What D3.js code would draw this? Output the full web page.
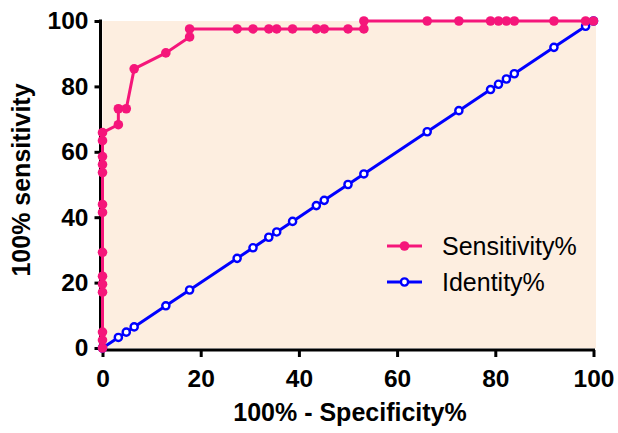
<!DOCTYPE html>
<html>
<head>
<meta charset="utf-8">
<script src="https://cdn.jsdelivr.net/npm/d3@7"></script>
<style>
	body { margin: 0; background: #fff; }
	svg text { font-family: "Liberation Sans", Arial, sans-serif; }
</style>
</head>
<body>
<div id="chart"></div>
<script>
// ROC points: 100% - specificity% (x) and sensitivity% (y)
const sensX = [0, 0, 0, 0, 0, 0, 0, 0, 0, 0, 0, 0, 0, 0,
	3.23, 3.23, 4.84, 6.45, 12.9, 17.74, 17.74,
	27.42, 30.65, 33.87, 35.48, 38.71, 43.55, 45.16, 50, 53.23,
	53.23, 66.13, 72.58, 79.03, 80.65, 82.26, 83.87, 91.94, 98.39, 100];
const sensY = [0, 2.44, 4.88, 17.07, 19.51, 21.95, 29.27, 41.46, 43.9, 53.66, 56.1, 58.54, 63.41, 65.85,
	68.29, 73.17, 73.17, 85.37, 90.24, 95.12, 97.56,
	97.56, 97.56, 97.56, 97.56, 97.56, 97.56, 97.56, 97.56, 97.56,
	100, 100, 100, 100, 100, 100, 100, 100, 100, 100];
// identity line
const identX = [0, 3.23, 4.84, 6.45, 12.9, 17.74, 27.42, 30.65, 33.87, 35.48, 38.71, 43.55, 45.16,
	50, 53.23, 66.13, 72.58, 79.03, 80.65, 82.26, 83.87, 91.94, 98.39, 100];
const identY = [0, 3.23, 4.84, 6.45, 12.9, 17.74, 27.42, 30.65, 33.87, 35.48, 38.71, 43.55, 45.16,
	50, 53.23, 66.13, 72.58, 79.03, 80.65, 82.26, 83.87, 91.94, 98.39, 100];
const ticks = [0, 20, 40, 60, 80, 100];
const seriesNames = ["Sensitivity%", "Identity%"];

const W = 618, H = 433;
const pink = "#F5167A", blue = "#0000FF";

let x = d3.scaleLinear().domain([0, 100]).range([102.5, 593.5]);
let y = d3.scaleLinear().domain([0, 100]).range([348, 21]);

let svg = d3.select("#chart").append("svg")
	.attr("width", W).attr("height", H);

// plot background
svg.append("rect")
	.attr("x", x(0)).attr("y", y(100))
	.attr("width", x(100) - x(0) + 2.5).attr("height", y(0) - y(100))
	.attr("fill", "#FDEEE0");

// axes (drawn under the data)
let xAxis = d3.axisBottom(x).tickValues(ticks).tickSize(7).tickSizeOuter(0).tickPadding(13);
let yAxis = d3.axisLeft(y).tickValues(ticks).tickSize(6).tickSizeOuter(0).tickPadding(6);

let gx = svg.append("g").attr("transform", "translate(0,350)").call(xAxis);
let gy = svg.append("g").attr("transform", "translate(100.5,0)").call(yAxis);
gx.select(".domain").remove();
gy.select(".domain").remove();
svg.append("line").attr("x1", 99).attr("x2", x(100) + 1.5).attr("y1", 350).attr("y2", 350)
	.attr("stroke", "#000").attr("stroke-width", 3);
svg.append("line").attr("x1", 100.5).attr("x2", 100.5).attr("y1", y(100) - 1.5).attr("y2", 351.5)
	.attr("stroke", "#000").attr("stroke-width", 3);
[gx, gy].forEach(g => {
	g.selectAll(".tick line").attr("stroke", "#000").attr("stroke-width", 3);
	g.selectAll(".tick text").attr("fill", "#000")
		.style("font-size", "24.5px").style("font-weight", "bold");
});

let line = d3.line().x(d => x(d[0])).y(d => y(d[1]));
let identPts = identX.map((v, i) => [v, identY[i]]);
let sensPts = sensX.map((v, i) => [v, sensY[i]]);

// identity series
svg.append("path").attr("d", line(identPts))
	.attr("fill", "none").attr("stroke", blue).attr("stroke-width", 3);
svg.append("g").selectAll("circle").data(identPts).enter().append("circle")
	.attr("cx", d => x(d[0])).attr("cy", d => y(d[1])).attr("r", 3.6)
	.attr("fill", "#fff").attr("stroke", blue).attr("stroke-width", 2.4);

// sensitivity series
svg.append("path").attr("d", line(sensPts))
	.attr("fill", "none").attr("stroke", pink).attr("stroke-width", 3);
svg.append("g").selectAll("circle").data(sensPts).enter().append("circle")
	.attr("cx", d => x(d[0])).attr("cy", d => y(d[1])).attr("r", 4.8)
	.attr("fill", pink);

// axis titles
svg.append("text").attr("x", 350).attr("y", 421).attr("text-anchor", "middle")
	.style("font-size", "25px").style("font-weight", "bold").text("100% - Specificity%");
svg.append("text").attr("transform", "translate(30,180) rotate(-90)").attr("text-anchor", "middle")
	.style("font-size", "25px").style("font-weight", "bold").text("100% sensitivity");

// legend
let legend = svg.append("g");
let legendY = [246, 282];
legend.selectAll("line").data(seriesNames).enter().append("line")
	.attr("x1", 387).attr("x2", 422)
	.attr("y1", (d, i) => legendY[i]).attr("y2", (d, i) => legendY[i])
	.attr("stroke", (d, i) => i == 0 ? pink : blue).attr("stroke-width", 3);
legend.selectAll("circle").data(seriesNames).enter().append("circle")
	.attr("cx", 404.5).attr("cy", (d, i) => legendY[i])
	.attr("r", (d, i) => i == 0 ? 4.8 : 3.6)
	.attr("fill", (d, i) => i == 0 ? pink : "#fff")
	.attr("stroke", (d, i) => i == 0 ? "none" : blue).attr("stroke-width", 2.4);
legend.selectAll("text").data(seriesNames).enter().append("text")
	.attr("x", 442).attr("y", (d, i) => legendY[i] + 9)
	.style("font-size", "25px").attr("fill", "#000")
	.text(d => d);
</script>
</body>
</html>
